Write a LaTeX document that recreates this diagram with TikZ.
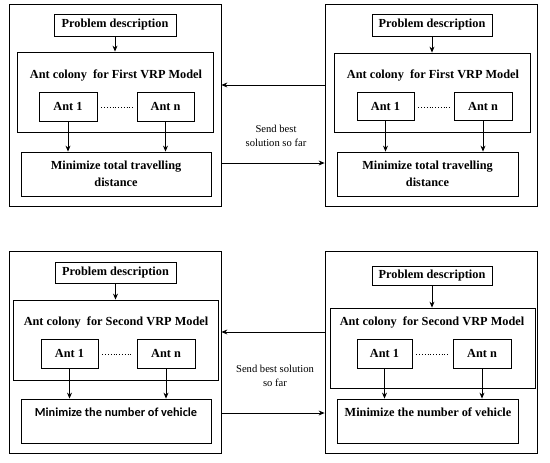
\documentclass[tikz,border=0pt]{standalone}
\usepackage{fontspec}
\setmainfont{Liberation Serif}
\newfontfamily\calib{Carlito}
\usetikzlibrary{fit,arrows.meta,calc}
\tikzset{
  bx/.style={draw, line width=0.8pt, inner sep=0pt, fit={#1}},
  bt/.style={font=\fontsize{12.3}{17}\selectfont\bfseries, inner sep=0pt, align=center},
  st/.style={font=\fontsize{10.6}{14}\selectfont, inner sep=0pt, align=center},
  arr/.style={line width=0.8pt, -{Stealth[length=6pt,width=5pt]}},
  dotl/.style={line width=0.8pt, dotted}
}
\begin{document}
\begin{tikzpicture}[x=1pt,y=-1pt]
\useasboundingbox (0,0) rectangle (550,463);
% ---------- top left ----------
\node[bx={(9,4)(221,206)}] (o1) {};
\node[bx={(54,14)(176,36)}] (pd1) {};
\node[bt] at (pd1) (pdt1) {Problem description};
\node[bx={(17,52)(213,132)}] (ac1) {};
\node[bt] at (116,75) (act1) {Ant colony\ \ for First VRP Model};
\node[bx={(39,92)(97,121)}] (a11) {};
\node[bt] at (a11) {Ant 1};
\node[bx={(137,92)(194,121)}] (an1) {};
\node[bt] at (an1) {Ant n};
\node[bx={(21,152)(211,196)}] (mn1) {};
\node[bt] at (mn1) {Minimize total travelling\\distance};
% ---------- top right ----------
\node[bx={(325,4)(537,206)}] (o2) {};
\node[bx={(372,14)(492,36)}] (pd2) {};
\node[bt] at (pd2) {Problem description};
\node[bx={(334,53)(530,132)}] (ac2) {};
\node[bt] at (433,75) {Ant colony\ \ for First VRP Model};
\node[bx={(357,92)(414,120)}] (a12) {};
\node[bt] at (a12) {Ant 1};
\node[bx={(454,92)(512,120)}] (an2) {};
\node[bt] at (an2) {Ant n};
\node[bx={(337,152)(518,196)}] (mn2) {};
\node[bt] at (mn2) {Minimize total travelling\\distance};
% ---------- bottom left ----------
\node[bx={(9,251)(221,453)}] (o3) {};
\node[bx={(55,262)(176,283)}] (pd3) {};
\node[bt] at (pd3) {Problem description};
\node[bx={(13,300)(218,380)}] (ac3) {};
\node[bt] at (116,322) {Ant colony\ \ for Second VRP Model};
\node[bx={(41,339)(98,368)}] (a13) {};
\node[bt] at (a13) {Ant 1};
\node[bx={(137,339)(195,368)}] (an3) {};
\node[bt] at (an3) {Ant n};
\node[bx={(21,399)(211,443)}] (mn3) {};
\node[bt, font=\calib\fontsize{12.3}{17}\selectfont\bfseries] at (116,412) {Minimize the number of vehicle};
% ---------- bottom right ----------
\node[bx={(325,251)(537,453)}] (o4) {};
\node[bx={(372,266)(492,285)}] (pd4) {};
\node[bt] at (pd4) {Problem description};
\node[bx={(330,308)(535,388)}] (ac4) {};
\node[bt] at (432,322) {Ant colony\ \ for Second VRP Model};
\node[bx={(357,339)(412,368)}] (a14) {};
\node[bt] at (a14) {Ant 1};
\node[bx={(453,339)(511,368)}] (an4) {};
\node[bt] at (an4) {Ant n};
\node[bx={(337,399)(518,443)}] (mn4) {};
\node[bt] at (428,412) {Minimize the number of vehicle};
% ---------- labels between ----------
\node[st] at (276,136) (s1) {Send best\\solution so far};
\node[st] at (275,376) (s2) {Send best solution\\so far};
% ---------- coordinates ----------
\coordinate (y1) at (0,85);
\coordinate (y2) at (0,163);
\coordinate (y3) at (0,332);
\coordinate (y4) at (0,413);
% ---------- arrows ----------
\foreach \i in {1,2,3,4}{
  \draw[arr] (pd\i.south) -- (pd\i.south |- ac\i.north);
  \draw[arr] (a1\i.south) -- (a1\i.south |- mn\i.north);
  \draw[arr] (an\i.south) -- (an\i.south |- mn\i.north);
  \draw[dotl] ($(a1\i.east)+(4,1)$) -- ($(an\i.west)+(-4,1)$);
}
\draw[arr] (o2.west |- y1) -- (o1.east |- y1);
\draw[arr] (o1.east |- y2) -- (o2.west |- y2);
\draw[arr] (o4.west |- y3) -- (o3.east |- y3);
\draw[arr] (o3.east |- y4) -- (o4.west |- y4);
\end{tikzpicture}
\end{document}
